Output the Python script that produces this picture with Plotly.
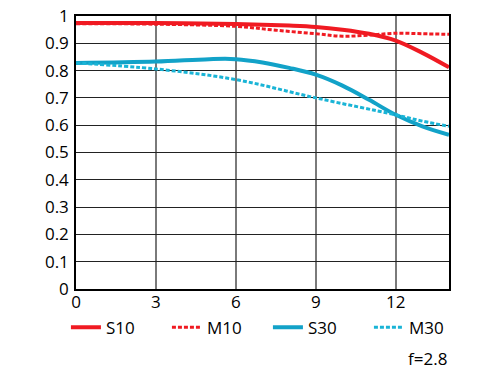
import plotly.graph_objects as go

x_s10 = [0, 3, 6, 8, 9, 10, 11, 12, 13, 14]
y_s10 = [0.974, 0.974, 0.971, 0.965, 0.96, 0.95, 0.935, 0.91, 0.865, 0.812]

x_m10 = [0, 3, 6, 7.5, 9, 10, 11, 12, 13, 14]
y_m10 = [0.972, 0.97, 0.962, 0.948, 0.935, 0.926, 0.93, 0.937, 0.935, 0.933]

x_s30 = [0, 3, 5, 6, 7, 8, 9, 10, 11, 12, 13, 14]
y_s30 = [0.828, 0.833, 0.842, 0.842, 0.83, 0.81, 0.785, 0.745, 0.693, 0.638, 0.596, 0.565]

x_m30 = [0, 3, 6, 9, 12, 13, 14]
y_m30 = [0.828, 0.806, 0.767, 0.70, 0.638, 0.615, 0.596]

x_ticks = [0, 3, 6, 9, 12]
y_ticks = [0, 0.1, 0.2, 0.3, 0.4, 0.5, 0.6, 0.7, 0.8, 0.9, 1]
y_ticktext = ["0", "0.1", "0.2", "0.3", "0.4", "0.5", "0.6", "0.7", "0.8", "0.9", "1"]

RED = "#f01a22"
BLUE = "#12a2c8"
CYAN = "#1ab4d6"

fig = go.Figure()
fig.add_trace(go.Scatter(x=x_s10, y=y_s10, name="S10", mode="lines",
                         line=dict(color=RED, width=4, shape="spline")))
fig.add_trace(go.Scatter(x=x_m10, y=y_m10, name="M10", mode="lines",
                         line=dict(color=RED, width=3, dash="4px,2px", shape="spline")))
fig.add_trace(go.Scatter(x=x_s30, y=y_s30, name="S30", mode="lines",
                         line=dict(color=BLUE, width=4, shape="spline")))
fig.add_trace(go.Scatter(x=x_m30, y=y_m30, name="M30", mode="lines",
                         line=dict(color=CYAN, width=3, dash="4px,2px", shape="spline")))

fig.add_annotation(text="f=2.8", x=1, y=-0.255, xref="paper", yref="paper",
                   xanchor="right", yanchor="middle", showarrow=False,
                   font=dict(size=17, color="black"))

fig.update_layout(
    width=500, height=375,
    margin=dict(l=76, r=51, t=16, b=86, autoexpand=False),
    paper_bgcolor="white", plot_bgcolor="white",
    font=dict(family="Open Sans", size=17, color="black"),
    showlegend=True,
    legend=dict(orientation="h", x=-0.027, xanchor="left", y=-0.142, yanchor="middle",
                entrywidth=56, entrywidthmode="pixels",
                font=dict(size=17), tracegroupgap=0, bgcolor="rgba(0,0,0,0)"),
)
fig.update_xaxes(range=[0, 14], tickvals=x_ticks, ticktext=[str(v) for v in x_ticks],
                 showgrid=True, gridcolor="#7a7a7a", gridwidth=2,
                 showline=True, linecolor="black", linewidth=1.5, mirror=True,
                 ticks="", zeroline=False, ticklabelstandoff=-3, automargin=False)
fig.update_yaxes(range=[0, 1], tickvals=y_ticks, ticktext=y_ticktext,
                 showgrid=True, gridcolor="#222222", gridwidth=1,
                 showline=True, linecolor="black", linewidth=1.5, mirror=True,
                 ticks="", zeroline=False, automargin=False, ticklabelstandoff=2)

fig.write_html("out.html", config={"displayModeBar": False},
               post_script="document.body.style.margin='0';document.body.style.overflow='hidden';")
